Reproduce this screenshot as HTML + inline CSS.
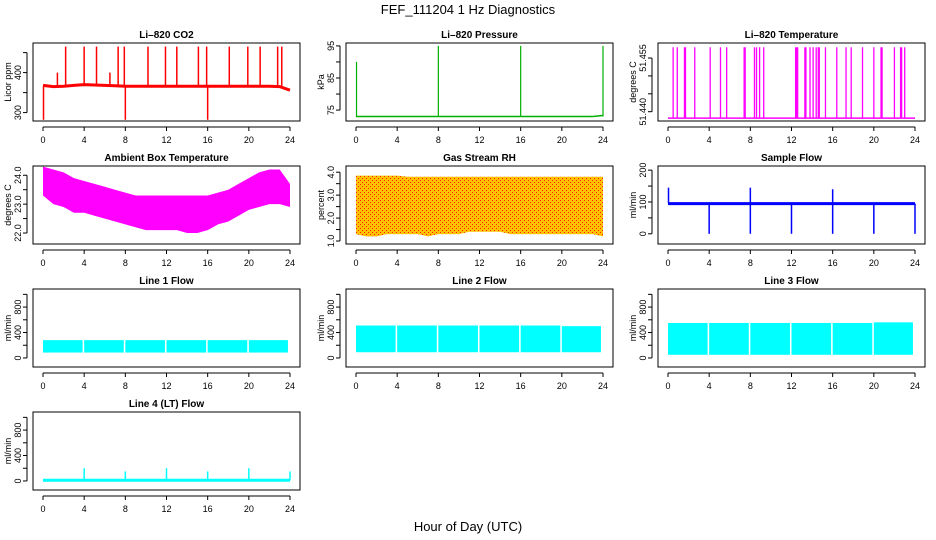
<!DOCTYPE html>
<html><head><meta charset="utf-8"><style>
html,body{margin:0;padding:0;background:#fff;}
svg{display:block;font-family:"Liberation Sans",Helvetica,sans-serif;}
</style></head><body>
<svg id="chart" width="936" height="540" viewBox="0 0 936 540">
<text x="468" y="14" text-anchor="middle" font-size="13">FEF_111204  1 Hz Diagnostics</text>
<text x="468" y="531" text-anchor="middle" font-size="13">Hour of Day (UTC)</text>
<defs>
<pattern id="rhdots" width="4" height="4" patternUnits="userSpaceOnUse"><rect width="4" height="4" fill="#FFC000"/><rect width="1" height="1" fill="#ff2000"/><rect x="2" y="2" width="1" height="1" fill="#ff2000"/></pattern>
</defs>
</svg>
<script>
// ---- data (hours) ----
const hours = [0,1,2,3,4,5,6,7,8,9,10,11,12,13,14,15,16,17,18,19,20,21,22,23,24];
const xTicks = [0,4,8,12,16,20,24];
// CO2
const co2Base = [368,365,366,368,370,369,368,367,366,366,366,366,366,366,366,366,366,366,366,366,366,366,366,365,356];
const co2SpikeX = [1.4,2.2,4,5.2,6.5,7.3,7.9,10.2,11.9,13,15.1,15.9,18.1,19.9,21.1,22.8,23.2];
const co2SpikeY = [400,465,465,465,400,465,465,465,465,465,465,465,465,465,465,465,465];
const co2DipX = [0.05,8,16];
const co2DipY = [282,282,282];
// Pressure
const presBase = [73,73,73,73,73,73,73,73,73,73,73,73,73,73,73,73,73,73,73,73,73,73,73,73,73.3];
const presSpikeX = [0.05,8,16,24];
const presSpikeY = [90,95,95,95];
// Li-820 temperature
const tempBase = [51.4382,51.4382,51.4382,51.4382,51.4382,51.4382,51.4382,51.4382,51.4382,51.4382,51.4382,51.4382,51.4382,51.4382,51.4382,51.4382,51.4382,51.4382,51.4382,51.4382,51.4382,51.4382,51.4382,51.4382,51.4382];
const tempSpikeX = [0.5,0.9,1.6,1.7,2.6,4.1,5.1,5.7,7.4,7.5,8.4,8.6,8.9,9.3,12.4,12.5,12.6,13.3,13.4,13.8,14.1,14.4,14.6,14.7,15.3,16.4,17.3,17.8,18.9,20,20.7,20.8,22,22.6,22.7,23];
const tempSpikeY = tempSpikeX.map(() => 51.458);
// Ambient box temperature
const ambHi = [24.3,24.2,24.1,23.9,23.8,23.7,23.6,23.5,23.4,23.3,23.3,23.3,23.3,23.3,23.3,23.3,23.3,23.4,23.5,23.7,23.9,24.1,24.2,24.2,23.7];
const ambLo = [23.3,23.0,22.9,22.7,22.7,22.6,22.5,22.4,22.3,22.2,22.1,22.1,22.1,22.1,22.0,22.0,22.1,22.3,22.4,22.6,22.8,22.9,23.0,23.0,22.9];
// Gas stream RH
const rhHi = [3.85,3.85,3.85,3.85,3.85,3.8,3.8,3.8,3.8,3.8,3.8,3.8,3.8,3.8,3.8,3.8,3.8,3.8,3.8,3.8,3.8,3.8,3.8,3.8,3.8];
const rhLo = [1.3,1.2,1.2,1.3,1.3,1.3,1.3,1.2,1.3,1.3,1.3,1.4,1.4,1.4,1.4,1.3,1.3,1.3,1.3,1.3,1.3,1.3,1.3,1.3,1.2];
// Sample flow
const sampBase = [95,95,95,95,95,95,95,95,95,95,95,95,95,95,95,95,95,95,95,95,95,95,95,95,95];
const sampDipX = [4,8,12,16,20,24];
const sampDipY = [0,0,0,0,0,0];
const sampSpikeX = [0.05,8,16];
const sampSpikeY = [145,145,140];
// Line flows (bands between 4-hour switches)
const segStart = [0,4,8,12,16,20];
const segEnd = [3.85,7.85,11.85,15.85,19.85,23.8];
const line1Lo = [85,85,85,85,85,85];
const line1Hi = [280,280,280,280,280,280];
const line2Lo = [90,90,90,90,90,90];
const line2Hi = [510,510,510,510,510,500];
const line3Lo = [50,50,50,50,50,50];
const line3Hi = [550,550,550,550,550,560];
const line4Base = [10,10,10,10,10,10,10,10,10,10,10,10,10,10,10,10,10,10,10,10,10,10,10,10,10];
const line4SpikeX = [4,8,12,16,20,24];
const line4SpikeY = [200,150,200,150,200,150];

const NS = "http://www.w3.org/2000/svg";
const svg = document.getElementById('chart');
function mk(tag, attrs, parent){ const e=document.createElementNS(NS,tag); for(const k in attrs) e.setAttribute(k,attrs[k]); (parent||svg).appendChild(e); return e; }

const colL = [33,346,658], rowT = [43,166,289,412], W = 267, H = 78;

function panel(col,row,title,ylab,dom,yt,ylbl,name){
  const L=colL[col], T=rowT[row];
  const g = mk('g',{});
  
  
  const sx = h => L+10+h*(247/24);
  const sy = v => T+H-(v-dom[0])/(dom[1]-dom[0])*H;
  const box = mk('rect',{x:L,y:T,width:W,height:H,fill:'none',stroke:'#000','stroke-width':1},g);
  
  
  const t = mk('text',{x:L+W/2,y:T-5,'text-anchor':'middle','font-size':10,'font-weight':'bold'},g);
  t.textContent = title;
  
  
  const yl = mk('text',{x:0,y:0,transform:`translate(${L-22},${T+H/2}) rotate(-90)`,'text-anchor':'middle','font-size':9},g);
  yl.textContent = ylab;
  
  
  mk('line',{x1:L-6,x2:L-6,y1:sy(yt[0]),y2:sy(yt[yt.length-1]),stroke:'#000'},g);
  yt.forEach((v,i)=>{
    mk('line',{x1:L-6,x2:L-10,y1:sy(v),y2:sy(v),stroke:'#000'},g);
    if(ylbl[i]){
      const tx = mk('text',{x:0,y:0,transform:`translate(${L-12},${sy(v)}) rotate(-90)`,'text-anchor':'middle','font-size':9},g);
      tx.textContent = ylbl[i];
      
      
    }
  });
  const by = T+H+6;
  mk('line',{x1:sx(0),x2:sx(24),y1:by,y2:by,stroke:'#000'},g);
  xTicks.forEach(h=>{
    mk('line',{x1:sx(h),x2:sx(h),y1:by,y2:by+4,stroke:'#000'},g);
    const tx = mk('text',{x:sx(h),y:by+16,'text-anchor':'middle','font-size':9},g);
    tx.textContent = String(h);
    
    
  });
  return {g,sx,sy};
}
function line(p,xs,ys,color,w,name){
  const d = xs.map((x,i)=>(i?'L':'M')+p.sx(x).toFixed(1)+','+p.sy(ys[i]).toFixed(1)).join('');
  const e = mk('path',{d,fill:'none',stroke:color,'stroke-width':w},p.g);
  
  
}
function spikes(p,xs,ys,base,color,w,name){
  xs.forEach((x,i)=>{
    const e = mk('line',{x1:p.sx(x),x2:p.sx(x),y1:p.sy(base),y2:p.sy(ys[i]),stroke:color,'stroke-width':w},p.g);
    
    
  });
}
function band(p,xs,lo,hi,fill,name){
  const up = xs.map((x,i)=>p.sx(x).toFixed(1)+','+p.sy(hi[i]).toFixed(1));
  const dn = xs.map((x,i)=>p.sx(x).toFixed(1)+','+p.sy(lo[i]).toFixed(1)).reverse();
  const e = mk('polygon',{points:up.concat(dn).join(' '),fill},p.g);
  
  
}
function segBands(p,lo,hi,fill,name){
  segStart.forEach((s,i)=>{
    const e = mk('rect',{x:p.sx(s),y:p.sy(hi[i]),width:p.sx(segEnd[i])-p.sx(s),height:p.sy(lo[i])-p.sy(hi[i]),fill},p.g);
    
    
  });
}

// Row 1
let p = panel(0,0,'Li\u2013820 CO2','Licor ppm',[279,474],[300,350,400,450],['300','','400',''],'li820-co2-panel');
spikes(p,co2SpikeX,co2SpikeY,366,'#ff0000',1.5,'co2-spike');
spikes(p,co2DipX,co2DipY,366,'#ff0000',1.5,'co2-dip');
line(p,hours,co2Base,'#ff0000',3,'co2-series');

p = panel(1,0,'Li\u2013820 Pressure','kPa',[71.6,95.9],[75,80,85,90,95],['75','','85','','95'],'li820-pressure-panel');
line(p,hours,presBase,'#00b000',1.5,'pressure-series');
spikes(p,presSpikeX,presSpikeY,73,'#00b000',1.2,'pressure-spike');

p = panel(2,0,'Li\u2013820 Temperature','degrees C',[51.4374,51.4592],[51.440,51.445,51.450,51.455],['51.440','','','51.455'],'li820-temperature-panel');
line(p,hours,tempBase,'#ff00ff',1.5,'temperature-series');
spikes(p,tempSpikeX,tempSpikeY,51.4382,'#ff00ff',1.3,'temperature-spike');

// Row 2
p = panel(0,1,'Ambient Box Temperature','degrees C',[21.62,24.32],[22.0,22.5,23.0,23.5,24.0],['22.0','','23.0','','24.0'],'ambient-temperature-panel');
band(p,hours,ambLo,ambHi,'#ff00ff','ambient-temperature-series');

p = panel(1,1,'Gas Stream RH','percent',[0.87,4.27],[1.0,1.5,2.0,2.5,3.0,3.5,4.0],['1.0','','2.0','','3.0','','4.0'],'gas-rh-panel');
band(p,hours,rhLo,rhHi,'url(#rhdots)','gas-rh-series');

p = panel(2,1,'Sample Flow','ml/min',[-32,213],[0,50,100,150,200],['0','','100','','200'],'sample-flow-panel');
line(p,hours,sampBase,'#0000ff',3,'sample-flow-series');
spikes(p,sampDipX,sampDipY,95,'#0000ff',1.5,'sample-flow-dip');
spikes(p,sampSpikeX,sampSpikeY,95,'#0000ff',1.5,'sample-flow-spike');

// Row 3
const flowDom = [-142,1084], flowTicks=[0,200,400,600,800,1000], flowLbl=['0','','400','','800',''];
p = panel(0,2,'Line 1 Flow','ml/min',flowDom,flowTicks,flowLbl,'line1-flow-panel');
segBands(p,line1Lo,line1Hi,'#00ffff','line1-flow-series');
p = panel(1,2,'Line 2 Flow','ml/min',flowDom,flowTicks,flowLbl,'line2-flow-panel');
segBands(p,line2Lo,line2Hi,'#00ffff','line2-flow-series');
p = panel(2,2,'Line 3 Flow','ml/min',flowDom,flowTicks,flowLbl,'line3-flow-panel');
segBands(p,line3Lo,line3Hi,'#00ffff','line3-flow-series');

// Row 4
p = panel(0,3,'Line 4 (LT) Flow','ml/min',flowDom,flowTicks,flowLbl,'line4-flow-panel');
line(p,hours,line4Base,'#00ffff',3,'line4-flow-series');
spikes(p,line4SpikeX,line4SpikeY,10,'#00ffff',1.5,'line4-flow-spike');
</script>
</body></html>
